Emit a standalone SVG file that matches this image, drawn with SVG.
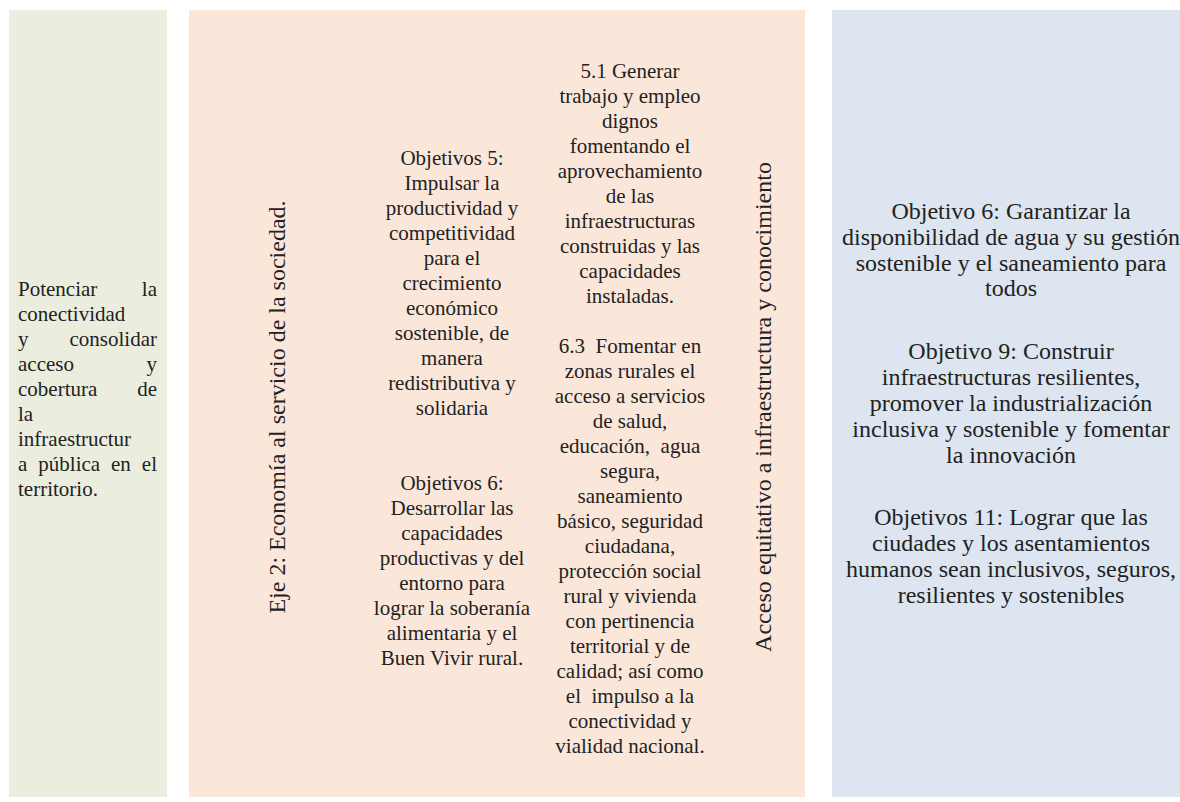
<svg xmlns="http://www.w3.org/2000/svg" width="1180" height="802" viewBox="0 0 1180 802">
<style>
  .t { font-family: "Liberation Serif", "Times New Roman", serif; fill: #222; }
  .s21 { font-size: 21px; }
  .s24 { font-size: 24px; }
  .c { text-anchor: middle; }
  .e { text-anchor: end; }
</style>
<rect width="1180" height="802" fill="#ffffff"/>

<g id="node-green">
  <rect x="9" y="10" width="158" height="787" fill="#EBEEDF"/>
  <text class="t s21" x="18" y="296">Potenciar</text>
  <text class="t s21 e" x="157" y="296">la</text>
  <text class="t s21" x="18" y="321">conectividad</text>
  <text class="t s21" x="18" y="346">y</text>
  <text class="t s21 e" x="157" y="346">consolidar</text>
  <text class="t s21" x="18" y="371">acceso</text>
  <text class="t s21 e" x="157" y="371">y</text>
  <text class="t s21" x="18" y="396">cobertura</text>
  <text class="t s21 e" x="157" y="396">de</text>
  <text class="t s21" x="18" y="421">la</text>
  <text class="t s21" x="18" y="446">infraestructur</text>
  <text class="t s21" x="18" y="471">a</text>
  <text class="t s21" x="38.3" y="471">pública</text>
  <text class="t s21" x="111" y="471">en</text>
  <text class="t s21 e" x="157" y="471">el</text>
  <text class="t s21" x="18" y="496">territorio.</text>
</g>

<g id="node-peach">
  <rect x="189" y="10" width="616" height="787" fill="#FBE7DA"/>
  <text class="t s24 c" transform="translate(285,407) rotate(-90)" x="0" y="0">Eje 2: Economía al servicio de la sociedad.</text>
  <text class="t s24 c" transform="translate(771,407) rotate(-90)" x="0" y="0">Acceso equitativo a infraestructura y conocimiento</text>

  <text class="t s21 c"><tspan x="452" y="165">Objetivos 5:</tspan><tspan x="452" y="190">Impulsar la</tspan><tspan x="452" y="215">productividad y</tspan><tspan x="452" y="240">competitividad</tspan><tspan x="452" y="265">para el</tspan><tspan x="452" y="290">crecimiento</tspan><tspan x="452" y="315">económico</tspan><tspan x="452" y="340">sostenible, de</tspan><tspan x="452" y="365">manera</tspan><tspan x="452" y="390">redistributiva y</tspan><tspan x="452" y="415">solidaria</tspan></text>
  <text class="t s21 c"><tspan x="452" y="490">Objetivos 6:</tspan><tspan x="452" y="515">Desarrollar las</tspan><tspan x="452" y="540">capacidades</tspan><tspan x="452" y="565">productivas y del</tspan><tspan x="452" y="590">entorno para</tspan><tspan x="452" y="615">lograr la soberanía</tspan><tspan x="452" y="640">alimentaria y el</tspan><tspan x="452" y="665">Buen Vivir rural.</tspan></text>

  <text class="t s21 c"><tspan x="630" y="78">5.1 Generar</tspan><tspan x="630" y="103">trabajo y empleo</tspan><tspan x="630" y="128">dignos</tspan><tspan x="630" y="153">fomentando el</tspan><tspan x="630" y="178">aprovechamiento</tspan><tspan x="630" y="203">de las</tspan><tspan x="630" y="228">infraestructuras</tspan><tspan x="630" y="253">construidas y las</tspan><tspan x="630" y="278">capacidades</tspan><tspan x="630" y="303">instaladas.</tspan></text>
  <text class="t s21 c"><tspan x="630" y="353">6.3&#160; Fomentar en</tspan><tspan x="630" y="378">zonas rurales el</tspan><tspan x="630" y="403">acceso a servicios</tspan><tspan x="630" y="428">de salud,</tspan><tspan x="630" y="453">educación,&#160; agua</tspan><tspan x="630" y="478">segura,</tspan><tspan x="630" y="503">saneamiento</tspan><tspan x="630" y="528">básico, seguridad</tspan><tspan x="630" y="553">ciudadana,</tspan><tspan x="630" y="578">protección social</tspan><tspan x="630" y="603">rural y vivienda</tspan><tspan x="630" y="628">con pertinencia</tspan><tspan x="630" y="653">territorial y de</tspan><tspan x="630" y="678">calidad; así como</tspan><tspan x="630" y="703">el&#160; impulso a la</tspan><tspan x="630" y="728">conectividad y</tspan><tspan x="630" y="753">vialidad nacional.</tspan></text>
</g>

<g id="node-blue">
  <rect x="832" y="10" width="348" height="787" fill="#DCE5F0"/>
  <text class="t s24 c"><tspan x="1011" y="219">Objetivo 6: Garantizar la</tspan><tspan x="1011" y="245">disponibilidad de agua y su gestión</tspan><tspan x="1011" y="271">sostenible y el saneamiento para</tspan><tspan x="1011" y="296">todos</tspan></text>
  <text class="t s24 c"><tspan x="1011" y="359">Objetivo 9: Construir</tspan><tspan x="1011" y="385">infraestructuras resilientes,</tspan><tspan x="1011" y="411">promover la industrialización</tspan><tspan x="1011" y="437">inclusiva y sostenible y fomentar</tspan><tspan x="1011" y="463">la innovación</tspan></text>
  <text class="t s24 c"><tspan x="1011" y="525">Objetivos 11: Lograr que las</tspan><tspan x="1011" y="551">ciudades y los asentamientos</tspan><tspan x="1011" y="577">humanos sean inclusivos, seguros,</tspan><tspan x="1011" y="603">resilientes y sostenibles</tspan></text>
</g>

<g id="connectors"></g>
</svg>
